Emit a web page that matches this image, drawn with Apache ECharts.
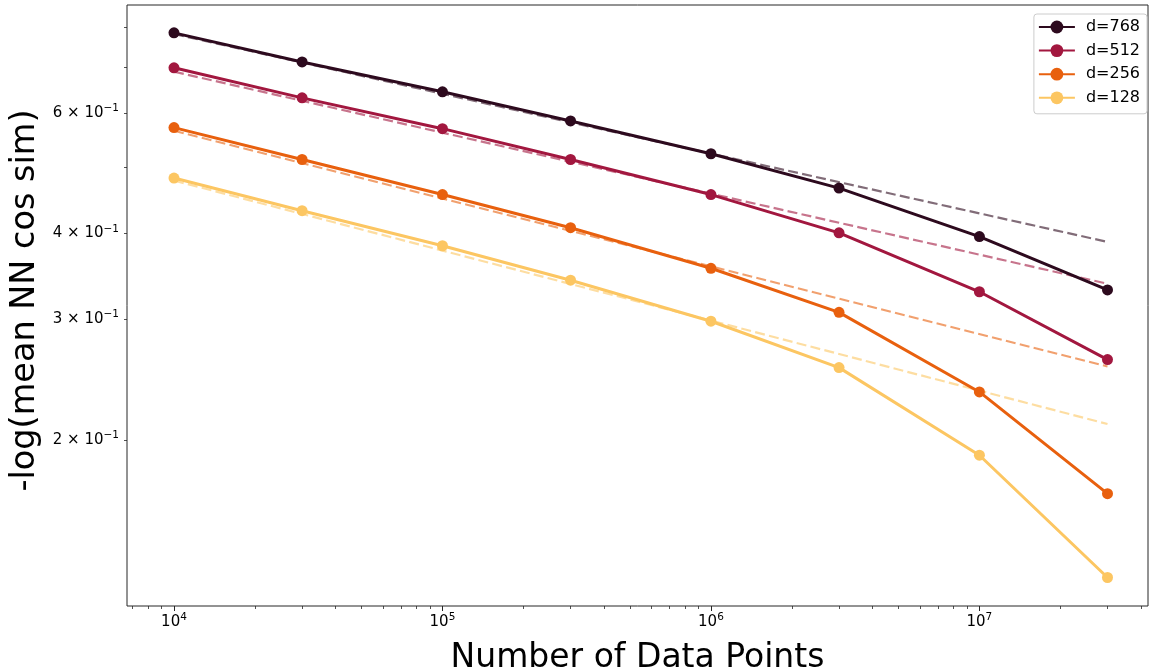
<!DOCTYPE html>
<html>
<head>
<meta charset="utf-8">
<script src="https://cdn.jsdelivr.net/npm/echarts@6/dist/echarts.min.js"></script>
<style>
html,body{margin:0;padding:0;background:#fff;}
#chart{width:1150px;height:672px;}
</style>
</head>
<body>
<div id="chart"></div>
<script>
// Data
const xValues = [1e4, 3e4, 1e5, 3e5, 1e6, 3e6, 1e7, 3e7];
const d768 = [0.785, 0.712, 0.644, 0.584, 0.523, 0.466, 0.396, 0.331];
const d512 = [0.698, 0.631, 0.569, 0.513, 0.456, 0.401, 0.329, 0.262];
const d256 = [0.571, 0.513, 0.456, 0.408, 0.356, 0.307, 0.235, 0.167];
const d128 = [0.482, 0.432, 0.384, 0.342, 0.298, 0.255, 0.190, 0.126];
// power-law fit lines (dashed), endpoints
const fitX = [1e4, 3e7];
const fit768 = [0.782, 0.389];
const fit512 = [0.689, 0.338];
const fit256 = [0.565, 0.256];
const fit128 = [0.478, 0.211];

const seriesNames = ['d=768', 'd=512', 'd=256', 'd=128'];
const colors = ['#2d0a1e', '#a2173f', '#e8600e', '#fcc662'];

// tick labels / positions
const xMajorTicks = [1e4, 1e5, 1e6, 1e7];
const xMinorTicks = [7e3, 8e3, 9e3,
  2e4, 3e4, 4e4, 5e4, 6e4, 7e4, 8e4, 9e4,
  2e5, 3e5, 4e5, 5e5, 6e5, 7e5, 8e5, 9e5,
  2e6, 3e6, 4e6, 5e6, 6e6, 7e6, 8e6, 9e6,
  2e7, 3e7, 4e7];
const yLabelTicks = [0.2, 0.3, 0.4, 0.6];
const yAllTicks = [0.2, 0.3, 0.4, 0.5, 0.6, 0.7, 0.8];

const FONT = 'DejaVu Sans';
const xMin = 6683, xMax = 4.246e7;
const yMin = 0.1145, yMax = 0.862;

function pairs(xs, ys) { return xs.map((x, i) => [x, ys[i]]); }

const solidData = [d768, d512, d256, d128];
const fitData = [fit768, fit512, fit256, fit128];

const series = [];
fitData.forEach((f, i) => {
  series.push({
    type: 'line',
    data: pairs(fitX, f),
    symbol: 'none',
    silent: true,
    z: 2,
    lineStyle: { color: colors[i], width: 2.2, type: [10, 4.3], opacity: 0.6 },
    itemStyle: { color: colors[i] }
  });
});
solidData.forEach((d, i) => {
  series.push({
    name: seriesNames[i],
    type: 'line',
    data: pairs(xValues, d),
    symbol: 'circle',
    symbolSize: 11,
    z: 3,
    lineStyle: { color: colors[i], width: 3 },
    itemStyle: { color: colors[i] }
  });
});

const chart = echarts.init(document.getElementById('chart'), null, { renderer: 'canvas' });
chart.setOption({
  animation: false,
  backgroundColor: '#fff',
  grid: {
    left: 127, right: 2, top: 5, bottom: 66,
    containLabel: false,
    outerBoundsMode: 'none',
    show: true, borderColor: '#262626', borderWidth: 1, backgroundColor: 'transparent'
  },
  legend: {
    data: seriesNames,
    orient: 'vertical',
    right: 3, top: 14,
    itemWidth: 36, itemHeight: 16, itemGap: 7.6,
    padding: [5, 7, 8, 4],
    borderColor: '#cccccc', borderWidth: 1, borderRadius: 3,
    backgroundColor: 'rgba(255,255,255,0.8)',
    textStyle: { fontFamily: FONT, fontSize: 16, color: '#000', padding: [0, 0, 0, 6] }
  },
  xAxis: [{
    type: 'log', logBase: 10, min: xMin, max: xMax,
    name: 'Number of Data Points', nameLocation: 'middle', nameGap: 36,
    nameTextStyle: { fontFamily: FONT, fontSize: 33, color: '#000' },
    axisLine: { show: false },
    splitLine: { show: false },
    axisTick: { show: true, customValues: xMajorTicks, length: 5, lineStyle: { color: '#262626', width: 1 } },
    axisLabel: {
      show: true, customValues: xMajorTicks, margin: 6,
      formatter: v => '{b|10}{sup|' + Math.round(Math.log10(v)) + '}',
      rich: {
        b: { fontFamily: FONT, fontSize: 15, color: '#000', lineHeight: 20 },
        sup: { fontFamily: FONT, fontSize: 10.5, color: '#000', lineHeight: 13, verticalAlign: 'top' }
      }
    }
  }, {
    type: 'log', logBase: 10, min: xMin, max: xMax, position: 'bottom',
    axisLine: { show: false },
    splitLine: { show: false },
    axisTick: { show: true, customValues: xMinorTicks, length: 3, lineStyle: { color: '#262626', width: 0.8 } },
    axisLabel: { show: false }
  }],
  yAxis: {
    type: 'log', logBase: 10, min: yMin, max: yMax,
    name: '-log(mean NN cos sim)', nameLocation: 'middle', nameGap: 79,
    nameTextStyle: { fontFamily: FONT, fontSize: 33.5, color: '#000', padding: [0, 0, 0, 10] },
    axisLine: { show: false },
    splitLine: { show: false },
    axisTick: { show: true, customValues: yAllTicks, length: 3, lineStyle: { color: '#262626', width: 0.8 } },
    axisLabel: {
      show: true, customValues: yLabelTicks, margin: 8,
      formatter: v => '{b|' + Math.round(v * 10) + ' × 10}{sup|−1}',
      rich: {
        b: { fontFamily: FONT, fontSize: 15, color: '#000', lineHeight: 20 },
        sup: { fontFamily: FONT, fontSize: 10.5, color: '#000', lineHeight: 13, verticalAlign: 'top' }
      }
    }
  },
  series: series
});
</script>
</body>
</html>
